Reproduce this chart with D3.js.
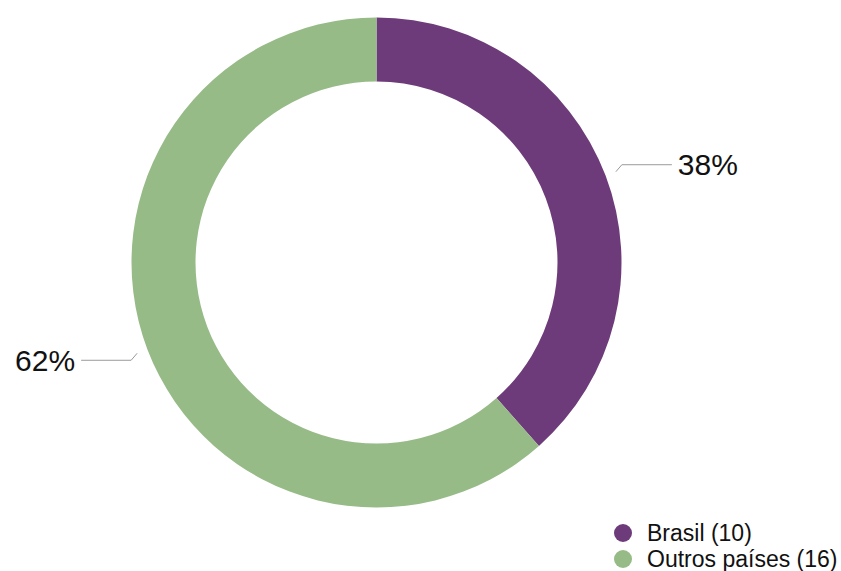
<!DOCTYPE html>
<html>
<head>
<meta charset="utf-8">
<script src="https://cdn.jsdelivr.net/npm/d3@7"></script>
<style>
  body { margin: 0; background: #fff; }
  text { font-family: "Liberation Sans", Arial, sans-serif; }
</style>
</head>
<body>
<div id="chart-area"></div>
<script>
// Data
const categories = ['Brasil', 'Outros países'];
const counts = [10, 16];
const colors = ['#6d3b79', '#96bb87'];

const width = 841;
const height = 571;
const cx = 376.5;
const cy = 262.5;
const outerR = 245;
const innerR = 181;

const svg = d3.select('#chart-area').append('svg')
  .attr('width', width)
  .attr('height', height);

const data = categories.map((c, i) => ({ name: c, value: counts[i], color: colors[i] }));
const total = d3.sum(counts);

const pie = d3.pie()
  .value((d) => d.value)
  .sort(null);

const arc = d3.arc()
  .innerRadius(innerR)
  .outerRadius(outerR);

const g = svg.append('g')
  .attr('transform', 'translate(' + cx + ', ' + cy + ')');

const arcs = pie(data);

g.selectAll('path')
  .data(arcs)
  .enter()
  .append('path')
  .attr('d', arc)
  .attr('fill', (d) => d.data.color);

// Leader lines + percentage labels
const labelR = 256;
arcs.forEach((d) => {
  const mid = (d.startAngle + d.endAngle) / 2;
  const x0 = labelR * Math.sin(mid);
  const y0 = -labelR * Math.cos(mid);
  const right = x0 > 0;
  const sx = right ? 1 : -1;
  const sy = y0 < 0 ? -1 : 1;
  const x1 = x0 + sx * 6;
  const y1 = y0 + sy * 7;
  const x2 = x1 + sx * 50;

  g.append('polyline')
    .attr('points', [[x0, y0], [x1, y1], [x2, y1]].map((p) => p.join(',')).join(' '))
    .attr('fill', 'none')
    .attr('stroke', '#9a9a9a')
    .attr('stroke-width', 1);

  g.append('text')
    .attr('x', x2 + sx * 6)
    .attr('y', y1 + 10.5)
    .attr('text-anchor', right ? 'start' : 'end')
    .attr('font-size', '30px')
    .attr('fill', '#111')
    .text(Math.round(d.data.value / total * 100) + '%');
});

// Legend
const legend = svg.append('g')
  .attr('transform', 'translate(623, 533)');

const items = legend.selectAll('g')
  .data(data)
  .enter()
  .append('g')
  .attr('transform', (d, i) => 'translate(0, ' + i * 26 + ')');

items.append('circle')
  .attr('r', 9)
  .attr('fill', (d) => d.color);

items.append('text')
  .attr('x', 24)
  .attr('y', 8)
  .attr('font-size', '23px')
  .attr('fill', '#111')
  .text((d) => d.name + ' (' + d.value + ')');
</script>
</body>
</html>
